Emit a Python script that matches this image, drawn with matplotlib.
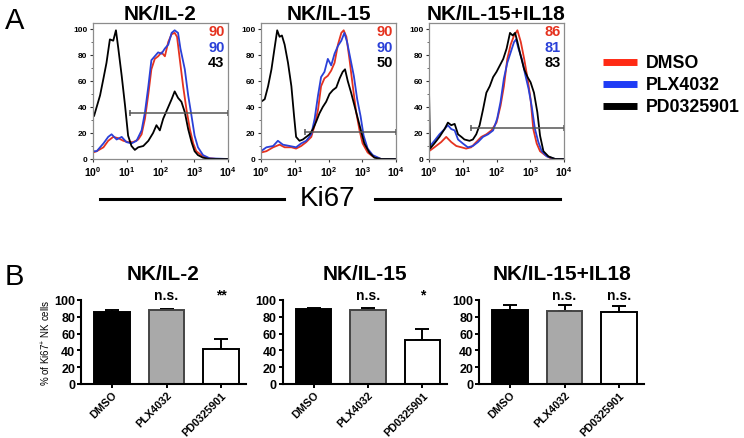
import numpy as np
import matplotlib
matplotlib.use("Agg")
import matplotlib.pyplot as plt
from matplotlib.lines import Line2D
from matplotlib.ticker import MultipleLocator, LogLocator, NullFormatter

plt.rcParams["font.family"] = ["Liberation Sans", "DejaVu Sans"]
plt.rcParams["mathtext.fontset"] = "custom"
plt.rcParams["mathtext.rm"] = "Liberation Sans"
plt.rcParams["mathtext.bf"] = "Liberation Sans:bold"

# %% Datos panel A (log10 de la intensidad, % del maximo)

titulos = ["NK/IL-2", "NK/IL-15", "NK/IL-15+IL18"]
tratamientos = ["DMSO", "PLX4032", "PD0325901"]

h1_negro_x = [0.0, 0.03, 0.21, 0.31, 0.40, 0.50, 0.60, 0.68, 0.75, 0.85, 0.95, 1.04, 1.14, 1.24, 1.34, 1.49,
              1.64, 1.78, 1.88, 1.98, 2.08, 2.23, 2.33, 2.42, 2.52, 2.62, 2.72, 2.82, 2.92, 3.01, 3.11, 3.26,
              3.46, 4.0]
h1_negro_y = [35, 33, 49, 62, 74, 92, 91, 99, 85, 64, 41, 18, 10, 7, 9, 10,
              14, 20, 26, 22, 31, 40, 46, 52, 47, 44, 36, 23, 13, 6, 3, 1,
              0, 0]
h1_rojo_x = [0.0, 0.11, 0.31, 0.45, 0.60, 0.75, 0.90, 1.04, 1.19, 1.34, 1.44, 1.54, 1.64, 1.73, 1.83, 1.93,
             2.03, 2.13, 2.23, 2.33, 2.42, 2.49, 2.57, 2.67, 2.77, 2.87, 2.97, 3.06, 3.21, 3.36, 3.66, 4.0]
h1_rojo_y = [5, 6, 9, 14, 17, 16, 14, 13, 13, 15, 19, 31, 50, 69, 77, 79,
             82, 79, 90, 96, 97, 94, 77, 56, 38, 23, 12, 6, 3, 1, 0, 0]
h1_azul_x = [0.0, 0.11, 0.31, 0.45, 0.55, 0.70, 0.85, 0.99, 1.14, 1.29, 1.44, 1.54, 1.64, 1.73, 1.83, 1.93,
             2.03, 2.13, 2.23, 2.33, 2.42, 2.52, 2.59, 2.72, 2.82, 2.92, 3.01, 3.11, 3.26, 3.46, 4.0]
h1_azul_y = [6, 6, 12, 17, 19, 15, 17, 13, 12, 14, 22, 36, 56, 76, 79, 82,
             81, 85, 88, 97, 99, 97, 85, 69, 49, 33, 18, 9, 3, 0.5, 0]

h2_negro_x = [0.0, 0.11, 0.21, 0.31, 0.40, 0.48, 0.55, 0.62, 0.70, 0.80, 0.90, 0.98, 1.04, 1.14, 1.24, 1.34,
              1.44, 1.54, 1.64, 1.73, 1.83, 1.93, 2.03, 2.13, 2.23, 2.33, 2.42, 2.49, 2.57, 2.67, 2.77, 2.87,
              2.97, 3.06, 3.21, 3.36, 3.56, 4.0]
h2_negro_y = [44, 46, 56, 69, 85, 99, 94, 95, 88, 74, 56, 33, 17, 14, 15, 17,
              19, 23, 29, 35, 40, 44, 50, 53, 55, 62, 67, 69, 60, 51, 41, 31,
              21, 12, 5, 1, 0, 0]
h2_rojo_x = [0.0, 0.16, 0.36, 0.55, 0.70, 0.90, 1.04, 1.19, 1.34, 1.49, 1.59, 1.69, 1.78, 1.88, 1.98, 2.08,
             2.18, 2.28, 2.38, 2.45, 2.53, 2.62, 2.72, 2.82, 2.92, 3.01, 3.16, 3.31, 3.56, 4.0]
h2_rojo_y = [5, 6, 9, 11, 9, 9, 8, 10, 13, 17, 26, 38, 56, 62, 64, 68,
             74, 88, 97, 99, 94, 77, 56, 36, 22, 12, 5, 2, 0, 0]
h2_azul_x = [0.0, 0.16, 0.36, 0.50, 0.65, 0.85, 1.04, 1.19, 1.34, 1.49, 1.59, 1.69, 1.78, 1.88, 1.98, 2.08,
             2.18, 2.28, 2.38, 2.47, 2.55, 2.65, 2.75, 2.85, 2.95, 3.04, 3.16, 3.31, 3.56, 4.0]
h2_azul_y = [6, 9, 10, 14, 11, 10, 9, 12, 14, 19, 31, 49, 63, 67, 77, 72,
             81, 87, 91, 97, 90, 77, 64, 46, 33, 18, 8, 3, 0, 0]

h3_negro_x = [0.0, 0.0, 0.03, 0.16, 0.31, 0.46, 0.56, 0.66, 0.76, 0.86, 0.96, 1.05, 1.20, 1.30, 1.40, 1.50,
              1.60, 1.70, 1.80, 1.90, 2.00, 2.10, 2.20, 2.30, 2.40, 2.48, 2.55, 2.62, 2.72, 2.82, 2.92, 3.01,
              3.11, 3.21, 3.29, 3.39, 3.54, 3.74, 4.0]
h3_negro_y = [0, 54, 8, 12, 17, 23, 28, 26, 27, 19, 17, 15, 14, 15, 19, 26,
              38, 51, 56, 63, 67, 72, 77, 85, 97, 95, 97, 90, 79, 69, 63, 59,
              51, 36, 18, 6, 2, 0, 0]
h3_rojo_x = [0.0, 0.16, 0.36, 0.51, 0.66, 0.81, 0.96, 1.10, 1.25, 1.40, 1.55, 1.70, 1.85, 2.00, 2.12, 2.22,
             2.32, 2.42, 2.52, 2.62, 2.72, 2.82, 2.92, 3.01, 3.09, 3.19, 3.29, 3.44, 3.64, 4.0]
h3_rojo_y = [6, 9, 13, 17, 13, 10, 9, 8, 9, 13, 17, 19, 22, 28, 41, 56,
             77, 88, 95, 99, 90, 77, 62, 46, 23, 12, 6, 3, 0, 0]
h3_azul_x = [0.0, 0.16, 0.31, 0.46, 0.56, 0.66, 0.76, 0.86, 1.00, 1.15, 1.30, 1.45, 1.60, 1.75, 1.90, 2.02,
             2.12, 2.22, 2.32, 2.42, 2.52, 2.58, 2.65, 2.75, 2.85, 2.95, 3.04, 3.14, 3.24, 3.34, 3.49, 3.74, 4.0]
h3_azul_y = [9, 14, 19, 23, 26, 23, 22, 15, 12, 9, 10, 13, 17, 19, 22, 31,
             44, 62, 74, 82, 90, 92, 85, 77, 65, 54, 41, 23, 13, 6, 2, 0, 0]

# porcentaje Ki67+ dentro del gate (rojo, azul, negro)
porcentajes = [["90", "90", "43"], ["90", "90", "50"], ["86", "81", "83"]]
gate_inicio = [1.1, 1.29, 1.25]   # log10
gate_altura = [35, 20.5, 24]

# %% Datos panel B

medias = [[86, 88, 42], [89, 88.5, 52], [88, 87, 86]]
errores = [[2.5, 1.5, 11], [1, 2.5, 13], [6, 6.5, 7]]
significancia = [["", "n.s.", "**"], ["", "n.s.", "*"], ["", "n.s.", "n.s."]]

curvas = [
    [(h1_rojo_x, h1_rojo_y), (h1_azul_x, h1_azul_y), (h1_negro_x, h1_negro_y)],
    [(h2_rojo_x, h2_rojo_y), (h2_azul_x, h2_azul_y), (h2_negro_x, h2_negro_y)],
    [(h3_rojo_x, h3_rojo_y), (h3_azul_x, h3_azul_y), (h3_negro_x, h3_negro_y)],
]

rojo = "#e5321f"
azul = "#2a40d8"
colores_linea = [rojo, azul, "black"]
colores_barra = ["black", "#a9a9a9", "white"]

W, H = 744, 439
fig = plt.figure(figsize=(W / 100, H / 100), dpi=100)


def ejes(izq, der, arriba, abajo):
    return fig.add_axes([izq / W, 1 - abajo / H, (der - izq) / W, (abajo - arriba) / H])


# %% Histogramas

izquierdas = [93, 261, 429]
for i in range(3):
    ax = ejes(izquierdas[i], izquierdas[i] + 135, 24, 160)
    for (cx, cy), c in zip(curvas[i], colores_linea):
        ax.plot(10 ** np.array(cx), cy, "-", color=c, lw=1.3)
    ax.plot([10 ** gate_inicio[i], 1e4], [gate_altura[i], gate_altura[i]], "-", color="#555555", lw=1.1,
            marker="|", markersize=5, markeredgewidth=1.1, clip_on=False)
    ax.set_xscale("log")
    ax.set_xlim(1, 1e4)
    ax.set_ylim(0, 104.6)
    ax.set_xticks([1, 10, 100, 1000, 10000])
    ax.set_xticklabels(["$\\mathbf{10^{%d}}$" % k for k in range(5)])
    ax.xaxis.set_minor_locator(LogLocator(base=10, subs=np.arange(2, 10)))
    ax.xaxis.set_minor_formatter(NullFormatter())
    ax.set_yticks([0, 20, 40, 60, 80, 100])
    ax.yaxis.set_minor_locator(MultipleLocator(10))
    ax.tick_params(labelsize=6, length=2.5, width=0.8, pad=1.5, colors="#333333", labelcolor="black")
    ax.tick_params(axis="x", labelsize=7.5, pad=1.5)
    ax.tick_params(which="minor", length=1.5, width=0.6, colors="#555555")
    for lab in ax.get_yticklabels():
        lab.set_fontweight("bold")
    for s in ax.spines.values():
        s.set_color("#8c8c8c")
        s.set_linewidth(0.9)
    for j, (txt, c) in enumerate(zip(porcentajes[i], [rojo, azul, "black"])):
        ax.text(0.975, 0.94 - j * 0.115, txt, transform=ax.transAxes, ha="right", va="center",
                fontsize=10.5, fontweight="bold", color=c)
    ax.set_title(titulos[i], fontsize=15, fontweight="bold", pad=3)

fig.text(5 / W, 1 - 21 / H, "A", fontsize=21, ha="left", va="center")
fig.text(5 / W, 1 - 277 / H, "B", fontsize=21, ha="left", va="center")

# linea Ki67
fig.text(327 / W, 1 - 199 / H, "Ki67", fontsize=20, ha="center", va="center")
for x0, x1 in [(100, 284), (375, 560)]:
    fig.add_artist(Line2D([x0 / W, x1 / W], [1 - 200 / H, 1 - 200 / H], color="black", lw=2.2))

# leyenda
for j, (nombre, c) in enumerate(zip(tratamientos, ["#ff2a14", "#1f3cf5", "black"])):
    yy = 1 - (63 + j * 22) / H
    fig.add_artist(Line2D([603 / W, 637 / W], [yy, yy], color=c, lw=5, solid_capstyle="butt"))
    fig.text(646 / W, yy, nombre, fontsize=12.8, fontweight="bold", ha="left", va="center")

# %% Barras

centros0 = [112, 313.5, 510]
paso = 54.5
xlim = (-0.56, 2.45)
pos = np.arange(3)
for i in range(3):
    izq = centros0[i] + xlim[0] * paso
    der = centros0[i] + xlim[1] * paso
    ax = ejes(izq, der, 301, 385)
    ax.bar(pos, medias[i], width=0.66, color=colores_barra, edgecolor=["black", "#444444", "black"],
           linewidth=1.4, zorder=2)
    ax.errorbar(pos, medias[i], yerr=[[0, 0, 0], errores[i]], fmt="none", ecolor="black", elinewidth=1.4,
                capsize=5, capthick=1.4, zorder=1)
    for k in range(3):
        if significancia[i][k]:
            ax.text(pos[k], 106, significancia[i][k], ha="center", va="center", fontsize=10,
                    fontweight="bold", clip_on=False)
    ax.set_xlim(*xlim)
    ax.set_ylim(0, 100)
    ax.set_yticks([0, 20, 40, 60, 80, 100])
    ax.set_xticks(pos)
    ax.set_xticklabels(tratamientos, rotation=45, ha="right", rotation_mode="anchor")
    ax.tick_params(labelsize=9, width=1.4, length=3, pad=1.5)
    ax.tick_params(axis="x", labelsize=7.8, pad=1)
    for lab in ax.get_xticklabels() + ax.get_yticklabels():
        lab.set_fontweight("bold")
    ax.spines["top"].set_visible(False)
    ax.spines["right"].set_visible(False)
    ax.spines["left"].set_linewidth(1.5)
    ax.spines["bottom"].set_linewidth(1.5)
    ax.set_title(titulos[i], fontsize=15, fontweight="bold", pad=15)
    if i == 0:
        ax.set_ylabel("% of Ki67$^{+}$ NK cells", fontsize=7, labelpad=1)

fig.savefig("out.png", dpi=100)
